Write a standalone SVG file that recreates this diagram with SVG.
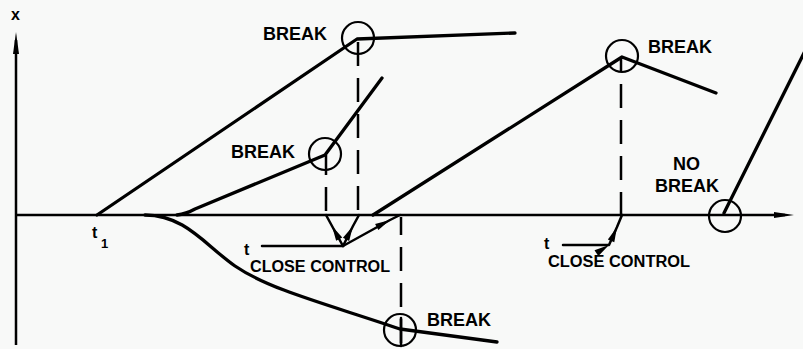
<svg xmlns="http://www.w3.org/2000/svg" width="803" height="349" viewBox="0 0 803 349">
<style>
.bg{fill:#f8f9f8}
.ln{fill:none;stroke:#000;stroke-width:3.3;stroke-linecap:round;stroke-linejoin:round}
.ax{fill:none;stroke:#000;stroke-width:2.5}
.thin{fill:none;stroke:#000;stroke-width:2.5;stroke-linecap:round;stroke-linejoin:round}
.dash{fill:none;stroke:#000;stroke-width:2.5;stroke-dasharray:24 12}
.ring{fill:none;stroke:#000;stroke-width:2.2}
.tx{font-family:"Liberation Sans",Arial,sans-serif;font-weight:bold;fill:#000}
</style>
<defs>
<marker id="ah" markerUnits="userSpaceOnUse" markerWidth="20" markerHeight="10" viewBox="-16 -5 17 10" refX="0" refY="0" orient="auto">
<path d="M0,0 L-15,-3.5 L-15,3.5 Z" fill="#000"/>
</marker>
</defs>
<rect class="bg" x="0" y="0" width="803" height="349"/>

<g id="axes">
<line class="ax" x1="16" y1="345" x2="16" y2="40"/>
<path d="M16,32 L13,54 L19,54 Z" fill="#000"/>
<line class="ax" x1="16" y1="215" x2="785" y2="215"/>
<path d="M794,215 L774,212 L774,218 Z" fill="#000"/>
<text class="tx" x="11" y="20" font-size="16">x</text>
<text class="tx" x="92" y="238" font-size="16">t</text>
<text class="tx" x="101" y="248" font-size="13">1</text>
</g>

<g id="connectors">
<path class="ln" d="M97,215 L357,39 L515,33"/>
<path class="ln" d="M177,215 Q186,214 195,209 L325,155 L382,78"/>
<path class="ln" d="M145,215 C185,215 205,245 235,266 C270,290 330,305 400,329 L497,342"/>
<path class="ln" d="M373,215 L622,57 L716,93"/>
<path class="ln" d="M724,213 L808,45"/>
<line class="dash" x1="358" y1="39" x2="358" y2="215" stroke-dashoffset="-3"/>
<line class="dash" x1="326" y1="155" x2="326" y2="215" stroke-dashoffset="4"/>
<line class="dash" x1="621" y1="57" x2="621" y2="215" stroke-dashoffset="9"/>
<line class="dash" x1="401" y1="217" x2="401" y2="346" stroke-dashoffset="6"/>
<line class="thin" x1="401" y1="318" x2="401" y2="346"/>
<path class="thin" d="M262,246 L343,246"/>
<path class="thin" d="M343,246 L332,226 L326,215" marker-mid="url(#ah)"/>
<path class="thin" d="M343,246 L353,226 L359,215" marker-mid="url(#ah)"/>
<path class="thin" d="M343,246 L390,220 L400,215" marker-mid="url(#ah)"/>
<path class="thin" d="M563,245 L609,245 L617,227 L622,215" marker-mid="url(#ah)"/>
</g>

<g id="break1">
<circle class="ring" cx="358" cy="38" r="16"/>
<text class="tx" x="263" y="40" font-size="18">BREAK</text>
</g>
<g id="break2">
<circle class="ring" cx="325" cy="154" r="16"/>
<text class="tx" x="231" y="158" font-size="18">BREAK</text>
</g>
<g id="break3">
<circle class="ring" cx="622" cy="56" r="16"/>
<text class="tx" x="648" y="53" font-size="18">BREAK</text>
</g>
<g id="break4">
<circle class="ring" cx="400" cy="330" r="16"/>
<text class="tx" x="427" y="326" font-size="18">BREAK</text>
</g>
<g id="nobreak">
<circle class="ring" cx="725" cy="216" r="16"/>
<text class="tx" x="673" y="170" font-size="18">NO</text>
<text class="tx" x="655" y="192" font-size="18">BREAK</text>
</g>
<g id="tclose1">
<text class="tx" x="244" y="255" font-size="16">t</text>
<text class="tx" x="250" y="272" font-size="16" textLength="140" lengthAdjust="spacingAndGlyphs">CLOSE CONTROL</text>
</g>
<g id="tclose2">
<text class="tx" x="544" y="249" font-size="16">t</text>
<text class="tx" x="548" y="267" font-size="16" textLength="142" lengthAdjust="spacingAndGlyphs">CLOSE CONTROL</text>
</g>
</svg>
